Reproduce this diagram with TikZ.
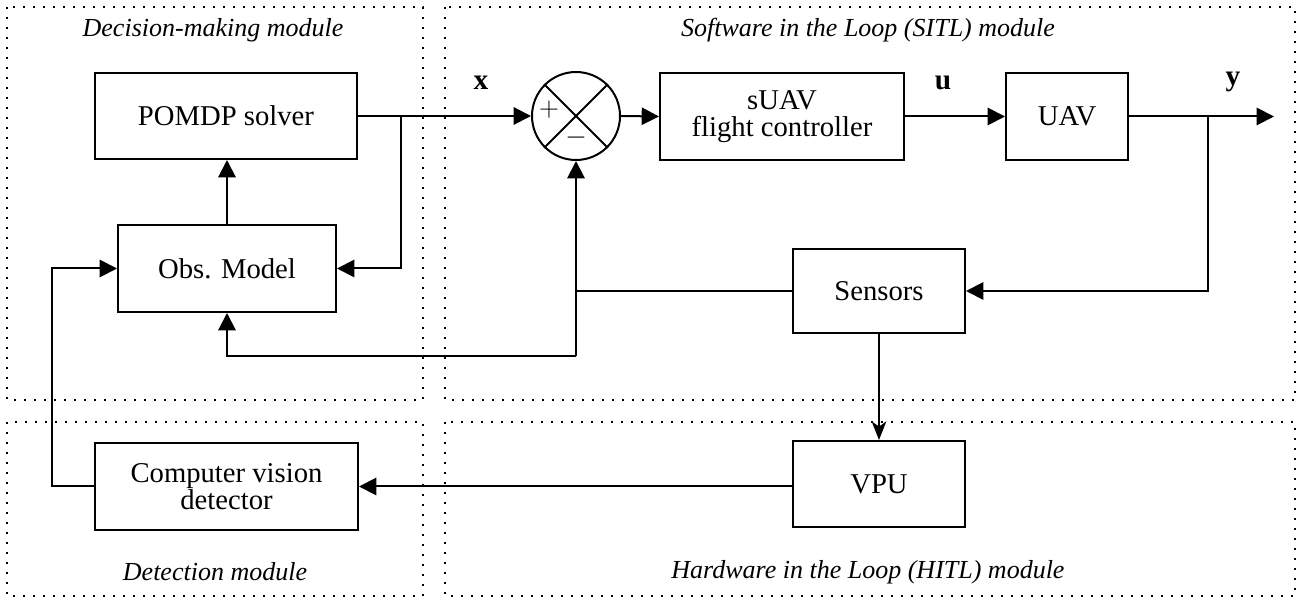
\documentclass[tikz,border=0pt]{standalone}
\usepackage{fontspec}
\setmainfont{Liberation Serif}
\usetikzlibrary{arrows.meta}
\begin{document}
\begin{tikzpicture}[x=0.75pt,y=-0.75pt,
  box/.style={draw,line width=1.5pt,inner sep=0pt,align=center,font=\fontsize{21.5}{20.5}\selectfont},
  arr/.style={line width=1.5pt,-{Triangle[length=13pt,width=13pt]}},
  arrs/.style={line width=1.5pt,-{Stealth[length=14pt,width=11pt,inset=4pt]}},
  wire/.style={line width=1.5pt},
  module/.style={line width=1.5pt,dash pattern=on 1.5pt off 6pt},
  modlabel/.style={font=\fontsize{19.5}{22}\selectfont\itshape},
  siglabel/.style={font=\fontsize{22}{22}\selectfont}]
\useasboundingbox (0,0) rectangle (1304,598);
% module frames
\draw[module] (7,7) rectangle (423,400);
\draw[module] (445,7) rectangle (1295,400);
\draw[module] (7,422) rectangle (423,596);
\draw[module] (445,422) rectangle (1295,596);
\node[modlabel] (ldec) at (213,30) {Decision-making module};
\node[modlabel] (lsitl) at (868,30) {Software in the Loop (SITL) module};
\node[modlabel] (ldet) at (215,572) {Detection module};
\node[modlabel] (lhitl) at (868,572) {Hardware in the Loop (HITL) module};
% blocks
\node[box,minimum width=196.5pt,minimum height=64.5pt] (pomdp) at (226,116) {POMDP solver};
\node[box,minimum width=163.5pt,minimum height=65.25pt] (obs) at (227,268.5) {Obs. Model};
\node[box,minimum width=183pt,minimum height=65.25pt] (suav) at (782,116.5) {sUAV\\flight controller};
\node[box,minimum width=91.5pt,minimum height=65.25pt] (uav) at (1067,116.5) {UAV};
\node[box,minimum width=129pt,minimum height=63pt] (sens) at (879,291) {Sensors};
\node[box,minimum width=129pt,minimum height=64.5pt] (vpu) at (879,484) {VPU};
\node[box,minimum width=197.25pt,minimum height=65.25pt] (cvd) at (226.5,486.5) {Computer vision\\detector};
\node[draw,circle,line width=1.5pt,minimum size=66pt,inner sep=0pt] (sum) at (576,116) {};
\draw[wire] (sum.north west) -- (sum.south east);
\draw[wire] (sum.south west) -- (sum.north east);
\node[font=\fontsize{20}{20}\selectfont] (plus) at (549,110) {$+$};
\node[font=\fontsize{20}{20}\selectfont] (minus) at (576,138) {$-$};
% signal labels
\node[siglabel] (lx) at (481,83) {$\mathbf{x}$};
\node[siglabel] (lu) at (943,83) {$\mathbf{u}$};
\node[siglabel] (ly) at (1233,82) {$\mathbf{y}$};
% coordinates
\coordinate (j1) at (401,116);
\coordinate (j2) at (1208,116.5);
\coordinate (yend) at (1274,116.5);
\coordinate (j3) at (576,291);
\coordinate (c4) at (576,356);
\coordinate (c5) at (52,268.5);
% connectors
\draw[wire] (pomdp.east) -- (j1);
\draw[arr] (j1) -- (sum.west);
\draw[arr] (j1) |- (obs.east);
\draw[arr] (sum.east) -- (suav.west);
\draw[arr] (suav.east) -- (uav.west);
\draw[arr] (uav.east) -- (yend);
\draw[arr] (j2) |- (sens.east);
\draw[wire] (sens.west) -- (j3);
\draw[arr] (c4) -- (sum.south);
\draw[arr] (c4) -| (obs.south);
\draw[arr] (obs.north) -- (obs.north |- pomdp.south);
\draw[arrs] (sens.south) -- (vpu.north);
\draw[arr] (vpu.west |- cvd.east) -- (cvd.east);
\draw[arr] (cvd.west) -| (c5) -- (obs.west);
\end{tikzpicture}
\end{document}
